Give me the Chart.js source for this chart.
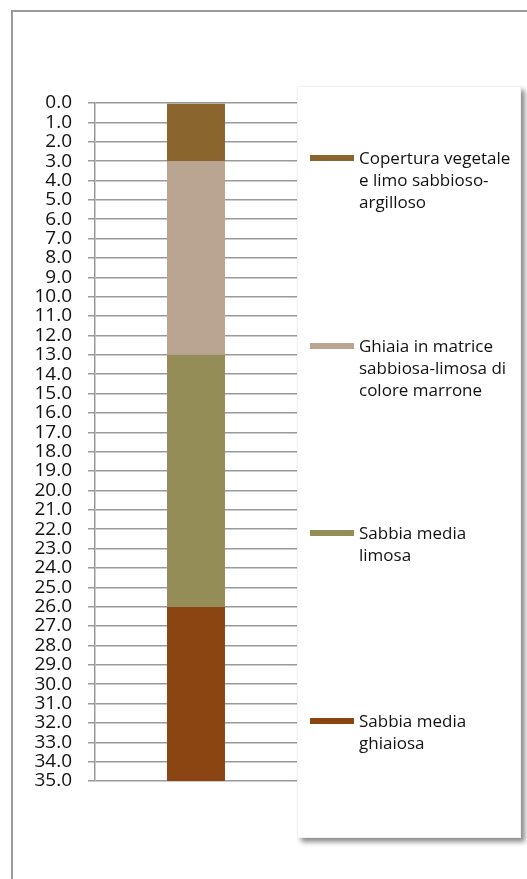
<!DOCTYPE html>
<html>
<head>
<meta charset="utf-8">
<script src="https://cdn.jsdelivr.net/npm/chart.js@4/dist/chart.umd.min.js"></script>
<style>
    html, body { margin: 0; padding: 0; background: #fff; }
    .wrap { position: relative; width: 527px; height: 879px; overflow: hidden; }
    .frame {
        position: absolute; left: 11px; top: 10px; width: 600px; height: 1000px;
        border: 2px solid #9a9a9a; box-sizing: border-box;
    }
    canvas { position: absolute; left: 0; top: 0; }
    .legend-box {
        position: absolute; left: 297px; top: 86px; width: 224px; height: 752px;
        background: #fff; border: 1px solid #f2f2f2; box-sizing: border-box;
        box-shadow: 4px 4px 5px rgba(0, 0, 0, 0.45);
    }
    .legend-item {
        position: absolute; left: 0; width: 224px;
        font-family: "Open Sans", sans-serif; font-size: 17px; line-height: 22px; color: #111;
    }
    .legend-item .swatch {
        position: absolute; left: 12px; top: 8px; width: 44px; height: 6px;
    }
    .legend-item .label { position: absolute; left: 61px; top: 0; width: 160px; }
</style>
</head>
<body>
<div class="wrap">
    <div class="frame"></div>
    <canvas id="chart" width="527" height="879"></canvas>
    <div class="legend-box" id="legend"></div>
</div>
<script>
// Stratigraphy layers (thickness in metres, top to bottom)
const categories = [''];
const layerNames = [
    'Copertura vegetale e limo sabbioso-argilloso',
    'Ghiaia in matrice sabbiosa-limosa di colore marrone',
    'Sabbia media limosa',
    'Sabbia media ghiaiosa'
];
const layerThickness = [3, 10, 13, 9];
const layerColors = ['#8a652d', '#b9a591', '#948d57', '#8b4512'];
const depthMin = 0;
const depthMax = 35;
const depthStep = 1;

const datasets = layerNames.map(function(name, i) {
    return {
        label: name,
        data: [layerThickness[i]],
        backgroundColor: layerColors[i],
        borderWidth: 0,
        categoryPercentage: 1,
        barPercentage: 0.287
    };
});

const chart = new Chart(document.getElementById('chart'), {
    type: 'bar',
    data: { labels: categories, datasets: datasets },
    options: {
        responsive: false,
        animation: false,
        layout: { padding: { left: 0, right: 230, top: 103, bottom: 98 } },
        plugins: { legend: { display: false }, tooltip: { enabled: false } },
        scales: {
            x: {
                stacked: true,
                display: true,
                ticks: { display: false },
                grid: { display: false, drawTicks: false },
                border: { display: false }
            },
            y: {
                stacked: true,
                reverse: true,
                min: depthMin,
                max: depthMax,
                afterFit: function(scale) { scale.width = 95; },
                ticks: {
                    stepSize: depthStep,
                    autoSkip: false,
                    padding: 16,
                    color: '#111',
                    font: { family: '"Open Sans", sans-serif', size: 19 },
                    callback: function(v) { return Number(v).toFixed(1); }
                },
                grid: { color: '#999', lineWidth: 1.5, tickLength: 7 },
                border: { color: '#999', width: 1.5 }
            }
        }
    }
});

// Legend built from the chart datasets
const legendBox = document.getElementById('legend');
chart.data.datasets.forEach(function(ds, i) {
    const item = document.createElement('div');
    item.className = 'legend-item';
    item.style.top = (60 + i * 187.7) + 'px';
    const sw = document.createElement('div');
    sw.className = 'swatch';
    sw.style.background = ds.backgroundColor;
    const lab = document.createElement('div');
    lab.className = 'label';
    lab.textContent = ds.label;
    item.appendChild(sw);
    item.appendChild(lab);
    legendBox.appendChild(item);
});
</script>
</body>
</html>
